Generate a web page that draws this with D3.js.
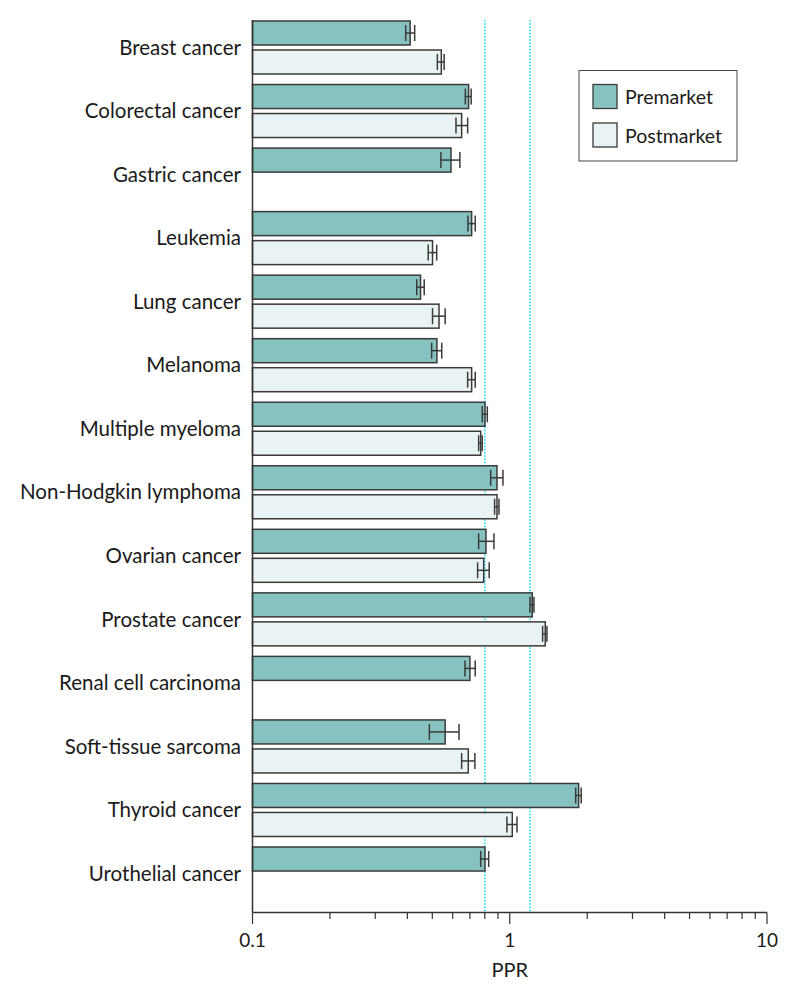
<!DOCTYPE html>
<html><head><meta charset="utf-8">
<script src="https://cdn.jsdelivr.net/npm/d3@7/dist/d3.min.js"></script>
<style>body{margin:0;background:#fff}svg{display:block}text{font-family:Lato,"Open Sans",sans-serif;fill:#1a1a1a}</style>
</head><body><svg id="c" width="794" height="997"></svg>
<script>
const categories = ["Breast cancer","Colorectal cancer","Gastric cancer","Leukemia","Lung cancer","Melanoma","Multiple myeloma","Non-Hodgkin lymphoma","Ovarian cancer","Prostate cancer","Renal cell carcinoma","Soft-tissue sarcoma","Thyroid cancer","Urothelial cancer"];
const preValue = [0.410,0.692,0.591,0.711,0.450,0.521,0.801,0.892,0.808,1.223,0.700,0.561,1.853,0.801];
const preLow   = [0.394,0.672,0.540,0.688,0.435,0.497,0.782,0.843,0.757,1.198,0.670,0.487,1.804,0.771];
const preHigh  = [0.427,0.708,0.640,0.734,0.465,0.544,0.818,0.941,0.868,1.242,0.734,0.635,1.896,0.828];
const postValue = [0.542,0.650,null,0.501,0.531,0.711,0.771,0.892,0.792,1.374,null,0.690,1.023,null];
const postLow   = [0.523,0.618,null,0.482,0.501,0.686,0.757,0.873,0.750,1.342,null,0.650,0.975,null];
const postHigh  = [0.556,0.686,null,0.520,0.561,0.734,0.782,0.908,0.832,1.395,null,0.732,1.067,null];
const refLines = [0.8, 1.2];
const seriesNames = ["Premarket","Postmarket"];
const xTickLabels = [0.1, 1, 10];
const axisTitle = "PPR";

const svg = d3.select("#c");
const x = d3.scaleLog().domain([0.1, 10]).range([252.5, 767]);
const y = d3.scaleBand().domain(categories).range([20.5, 20.5 + 14*63.54]);
const colors = ["#86c2c0", "#eaf3f4"];
const barH = 24;
const axisY = 912.5;

// reference lines
svg.selectAll(".ref").data(refLines).enter().append("line")
  .attr("x1", d => x(d)).attr("x2", d => x(d))
  .attr("y1", 20).attr("y2", axisY)
  .attr("stroke", "#1de4f2").attr("stroke-width", 1.6).attr("stroke-dasharray", "1.6,1.6");

const series = [
  {v: preValue, lo: preLow, hi: preHigh, off: 0.5, c: colors[0]},
  {v: postValue, lo: postLow, hi: postHigh, off: 29.5, c: colors[1]}
];
series.forEach(s => {
  const data = categories.map((c, i) => ({c, v: s.v[i], lo: s.lo[i], hi: s.hi[i]})).filter(d => d.v != null);
  const g = svg.append("g");
  g.selectAll("rect").data(data).enter().append("rect")
    .attr("x", x(0.1)).attr("y", d => y(d.c) + s.off)
    .attr("width", d => x(d.v) - x(0.1)).attr("height", barH)
    .attr("fill", s.c).attr("stroke", "#3a3a3a").attr("stroke-width", 1.5);
  const eb = g.selectAll(".eb").data(data).enter().append("g").attr("stroke", "#3a3a3a").attr("stroke-width", 1.5);
  eb.append("line").attr("x1", d => x(d.lo)).attr("x2", d => x(d.hi))
    .attr("y1", d => y(d.c) + s.off + barH/2).attr("y2", d => y(d.c) + s.off + barH/2);
  ["lo","hi"].forEach(k => {
    eb.append("line").attr("x1", d => x(d[k])).attr("x2", d => x(d[k]))
      .attr("y1", d => y(d.c) + s.off + barH/2 - 8).attr("y2", d => y(d.c) + s.off + barH/2 + 8);
  });
});

// category labels
svg.selectAll(".lab").data(categories).enter().append("text")
  .attr("x", 241).attr("y", d => y(d) + 26.8).attr("dy", "0.36em")
  .attr("text-anchor", "end").attr("font-size", 20.5).text(d => d);

// y axis line
svg.append("line").attr("x1", 252.5).attr("x2", 252.5).attr("y1", 20).attr("y2", axisY)
  .attr("stroke", "#333").attr("stroke-width", 1.5);

// x axis
const ax = svg.append("g").attr("transform", `translate(0,${axisY})`);
ax.append("line").attr("x1", x(0.1)).attr("x2", x(10)).attr("stroke", "#333").attr("stroke-width", 1.3);
const allTicks = x.ticks();
ax.selectAll(".t").data(allTicks).enter().append("line")
  .attr("x1", d => x(d)).attr("x2", d => x(d)).attr("y1", 0)
  .attr("y2", d => xTickLabels.some(v => Math.abs(v - d) < 1e-9) ? 11.5 : 6.5)
  .attr("stroke", "#333").attr("stroke-width", 1.2);
ax.selectAll(".tl").data(xTickLabels).enter().append("text")
  .attr("x", d => x(d)).attr("y", 27.5).attr("dy", "0.36em").attr("text-anchor", "middle")
  .attr("font-size", 19).text(d => d);
svg.append("text").attr("x", x(1)).attr("y", 970).attr("dy", "0.36em").attr("text-anchor", "middle")
  .attr("font-size", 20).text(axisTitle);

// legend
const lg = svg.append("g");
lg.append("rect").attr("x", 579).attr("y", 70.5).attr("width", 158).attr("height", 90.5)
  .attr("fill", "#fff").attr("stroke", "#444").attr("stroke-width", 1);
seriesNames.forEach((n, i) => {
  lg.append("rect").attr("x", 593).attr("y", 84.5 + i*38.5).attr("width", 24).attr("height", 24)
    .attr("fill", colors[i]).attr("stroke", "#3a3a3a").attr("stroke-width", 1.3);
  lg.append("text").attr("x", 625).attr("y", 97 + i*38.5).attr("dy", "0.36em")
    .attr("font-size", 19.5).text(n);
});
</script></body></html>
